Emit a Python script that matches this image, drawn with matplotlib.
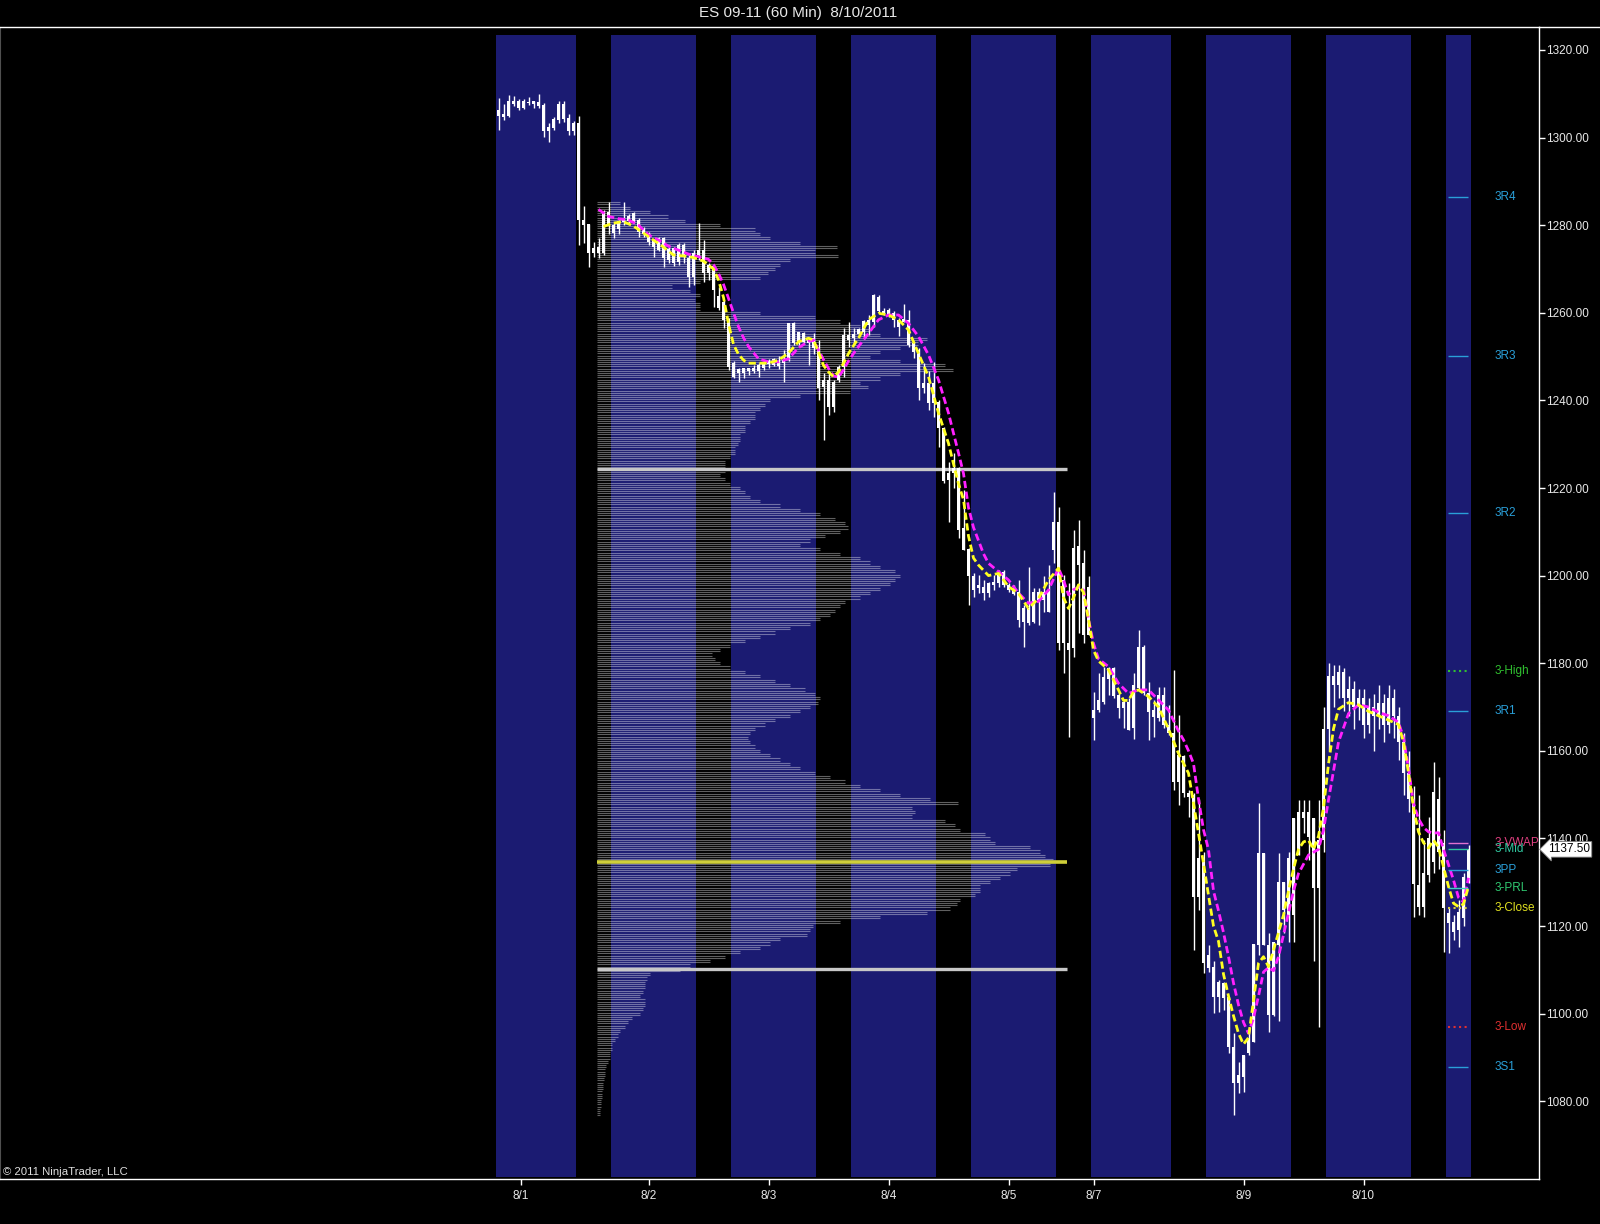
import numpy as np
import matplotlib
matplotlib.use("Agg")
import matplotlib.pyplot as plt
import matplotlib.transforms as mtransforms

plt.rcParams['font.family'] = ['Liberation Sans', 'DejaVu Sans']

# ES 09-11, 60 min bars, 8/1/2011 .. 8/10/2011 (bar index = x position)
bar_open = [
    1306.3, 1304.8, 1305.0, 1308.4, 1308.4, 1306.7, 1308.2, 1307.7, 1308.1, 1307.4,
    1301.4, 1302.1, 1304.0, 1307.7, 1304.4, 1301.4, 1303.4, 1281.2, 1280.3, 1273.7,
    1275.1, 1273.7, 1283.1, 1280.0, 1279.1, 1280.8, 1281.0, 1282.7, 1281.3, 1279.1,
    1278.2, 1276.6, 1274.3, 1277.0, 1272.0, 1274.7, 1271.7, 1275.5, 1272.4, 1268.2,
    1273.2, 1274.3, 1269.2, 1270.7, 1263.8, 1262.5, 1258.4, 1248.5, 1246.2, 1247.3,
    1246.6, 1246.8, 1246.6, 1247.5, 1248.3, 1249.4, 1247.9, 1248.5, 1249.2, 1257.6,
    1253.2, 1255.5, 1253.2, 1254.2, 1251.9, 1243.1, 1244.7, 1238.6, 1244.7, 1247.7,
    1254.9, 1254.2, 1255.2, 1255.7, 1257.2, 1258.0, 1263.7, 1260.0, 1260.6, 1260.0,
    1258.4, 1258.0, 1258.4, 1253.0, 1251.5, 1242.8, 1243.9, 1239.3, 1239.7, 1233.6,
    1221.8, 1223.5, 1224.5, 1210.8, 1206.0, 1199.8, 1197.1, 1197.3, 1196.1, 1197.9,
    1198.2, 1200.9, 1197.9, 1197.1, 1196.3, 1189.5, 1192.5, 1189.5, 1196.3, 1194.4,
    1196.3, 1205.8, 1212.3, 1184.5, 1184.5, 1183.4, 1206.8, 1202.8, 1186.4, 1167.4,
    1169.3, 1171.2, 1176.5, 1179.0, 1172.7, 1169.7, 1171.2, 1165.1, 1174.3, 1183.8,
    1173.1, 1167.8, 1167.4, 1172.7, 1165.9, 1164.0, 1152.9, 1158.8, 1150.3, 1149.9,
    1126.7, 1135.5, 1110.3, 1110.7, 1103.9, 1106.9, 1103.9, 1092.4, 1084.1, 1085.6,
    1090.9, 1093.6, 1115.7, 1136.6, 1115.7, 1099.7, 1115.7, 1130.1, 1122.1, 1122.5,
    1136.2, 1146.1, 1146.1, 1144.6, 1128.6, 1139.6, 1165.0, 1177.0, 1175.0, 1178.0,
    1172.0, 1174.0, 1170.0, 1172.0, 1166.0, 1170.0, 1168.0, 1171.0, 1166.0, 1172.0,
    1168.0, 1162.0, 1155.0, 1149.0, 1129.4, 1124.4, 1131.6, 1134.7, 1149.0, 1139.0,
    1122.9, 1121.0, 1119.1, 1121.8, 1131.0,
]
bar_high = [
    1309.0, 1307.7, 1309.7, 1309.5, 1308.7, 1308.7, 1309.2, 1308.4, 1310.0, 1307.8,
    1303.3, 1304.6, 1308.4, 1308.4, 1305.5, 1303.9, 1304.9, 1284.4, 1280.3, 1276.2,
    1277.0, 1283.5, 1285.2, 1280.4, 1281.3, 1285.4, 1282.6, 1283.1, 1281.6, 1279.7,
    1278.5, 1276.8, 1277.4, 1277.4, 1275.5, 1275.1, 1276.0, 1275.9, 1273.2, 1274.3,
    1280.4, 1276.6, 1271.4, 1270.9, 1266.0, 1263.0, 1258.7, 1248.9, 1247.5, 1247.5,
    1247.5, 1248.1, 1248.5, 1249.2, 1249.4, 1249.6, 1250.1, 1251.5, 1257.7, 1258.0,
    1255.7, 1255.7, 1254.2, 1255.3, 1253.8, 1246.2, 1246.6, 1244.7, 1248.1, 1256.5,
    1258.0, 1256.5, 1256.5, 1258.4, 1259.5, 1264.4, 1264.1, 1261.0, 1261.0, 1260.3,
    1258.7, 1262.0, 1260.6, 1253.4, 1251.9, 1248.5, 1246.6, 1248.8, 1240.1, 1234.0,
    1226.0, 1227.9, 1224.9, 1219.5, 1206.2, 1200.5, 1200.1, 1199.0, 1198.6, 1200.1,
    1201.3, 1201.3, 1198.2, 1197.9, 1199.0, 1193.3, 1202.0, 1197.1, 1197.1, 1199.8,
    1202.4, 1219.2, 1215.7, 1200.1, 1198.2, 1210.4, 1212.7, 1205.9, 1199.8, 1173.5,
    1177.7, 1179.2, 1179.2, 1179.2, 1173.1, 1171.6, 1172.0, 1177.7, 1187.6, 1184.2,
    1175.8, 1171.6, 1174.6, 1174.6, 1170.5, 1178.4, 1168.2, 1159.0, 1151.1, 1150.3,
    1149.1, 1137.0, 1115.7, 1111.9, 1107.7, 1107.3, 1103.9, 1095.5, 1089.0, 1090.5,
    1097.0, 1116.0, 1148.0, 1136.6, 1118.3, 1116.4, 1136.6, 1130.1, 1137.0, 1144.6,
    1148.8, 1148.8, 1148.8, 1144.6, 1148.8, 1170.0, 1180.0, 1179.5, 1179.5, 1179.0,
    1177.0, 1176.0, 1174.0, 1174.0, 1172.0, 1173.0, 1175.0, 1173.0, 1175.0, 1174.0,
    1170.0, 1164.0, 1160.0, 1152.0, 1150.0, 1139.6, 1145.0, 1157.5, 1154.0, 1142.0,
    1124.0, 1122.5, 1126.0, 1132.0, 1138.5,
]
bar_low = [
    1301.7, 1304.0, 1304.8, 1307.1, 1306.3, 1306.5, 1307.4, 1306.7, 1306.7, 1300.2,
    1299.1, 1301.7, 1303.4, 1303.6, 1300.6, 1300.6, 1275.5, 1275.9, 1270.4, 1272.8,
    1272.4, 1273.2, 1278.1, 1277.0, 1278.1, 1280.0, 1280.4, 1280.4, 1277.4, 1277.4,
    1275.5, 1272.8, 1274.0, 1270.5, 1271.3, 1270.7, 1270.9, 1271.3, 1266.0, 1266.3,
    1272.0, 1267.1, 1267.5, 1261.4, 1260.6, 1256.5, 1247.0, 1245.0, 1244.3, 1245.0,
    1245.8, 1246.2, 1245.4, 1246.9, 1247.5, 1247.9, 1247.1, 1244.3, 1248.9, 1252.7,
    1252.7, 1253.0, 1248.1, 1250.7, 1240.1, 1231.0, 1236.7, 1237.4, 1244.3, 1245.4,
    1252.3, 1252.7, 1254.9, 1254.5, 1254.9, 1256.8, 1259.9, 1259.5, 1259.1, 1256.8,
    1254.6, 1258.0, 1252.3, 1249.6, 1240.1, 1241.6, 1237.8, 1236.3, 1229.4, 1221.1,
    1212.3, 1219.9, 1208.5, 1205.8, 1193.3, 1195.2, 1196.0, 1194.4, 1195.2, 1196.7,
    1197.5, 1197.5, 1196.3, 1195.6, 1188.3, 1183.8, 1188.7, 1189.1, 1188.7, 1191.8,
    1191.8, 1202.8, 1183.0, 1177.7, 1163.2, 1181.5, 1186.8, 1184.5, 1186.4, 1162.5,
    1168.9, 1170.8, 1172.7, 1172.0, 1167.4, 1165.1, 1164.7, 1162.8, 1173.9, 1172.7,
    1162.5, 1163.2, 1166.7, 1165.1, 1163.6, 1151.1, 1147.6, 1149.5, 1145.0, 1114.5,
    1123.7, 1109.2, 1109.6, 1100.1, 1100.4, 1100.8, 1090.9, 1076.8, 1081.8, 1082.2,
    1090.5, 1093.6, 1113.4, 1115.7, 1095.9, 1099.4, 1098.2, 1118.3, 1116.4, 1116.4,
    1136.2, 1141.2, 1135.1, 1111.9, 1097.0, 1137.0, 1160.0, 1170.0, 1172.0, 1169.0,
    1168.0, 1165.0, 1167.0, 1163.0, 1164.0, 1160.0, 1165.0, 1162.0, 1164.0, 1163.0,
    1158.0, 1150.0, 1146.0, 1122.1, 1122.5, 1122.1, 1130.0, 1132.0, 1133.0, 1114.0,
    1113.8, 1116.8, 1115.3, 1120.0, 1129.8,
]
bar_close = [
    1305.0, 1305.5, 1308.4, 1307.7, 1306.7, 1308.4, 1307.8, 1308.4, 1307.2, 1301.4,
    1302.5, 1304.2, 1307.7, 1304.2, 1301.4, 1303.4, 1281.2, 1280.0, 1273.6, 1274.7,
    1273.7, 1283.1, 1280.0, 1278.3, 1281.0, 1281.6, 1282.1, 1281.0, 1278.5, 1277.9,
    1276.2, 1275.1, 1277.0, 1272.4, 1274.5, 1271.4, 1275.5, 1273.2, 1268.2, 1273.7,
    1274.3, 1269.2, 1270.9, 1265.2, 1261.0, 1258.4, 1247.7, 1245.4, 1247.1, 1246.2,
    1247.3, 1247.5, 1248.1, 1248.6, 1249.1, 1248.1, 1248.8, 1249.2, 1257.6, 1253.0,
    1255.7, 1253.4, 1253.9, 1251.9, 1242.8, 1244.7, 1238.6, 1244.3, 1247.7, 1254.9,
    1253.9, 1255.2, 1256.2, 1258.2, 1258.4, 1264.1, 1260.3, 1260.5, 1259.5, 1258.4,
    1256.8, 1258.5, 1252.7, 1251.1, 1242.8, 1243.9, 1239.3, 1243.9, 1233.6, 1221.5,
    1223.5, 1224.5, 1210.4, 1205.8, 1199.8, 1196.7, 1197.9, 1196.0, 1198.4, 1198.6,
    1200.5, 1197.9, 1196.7, 1195.9, 1189.9, 1192.5, 1189.1, 1196.3, 1194.4, 1196.3,
    1191.8, 1212.3, 1184.5, 1199.0, 1183.0, 1206.2, 1202.4, 1186.4, 1197.5, 1169.3,
    1171.6, 1176.9, 1178.8, 1172.4, 1169.7, 1171.2, 1164.7, 1175.0, 1183.8, 1173.1,
    1168.9, 1169.3, 1172.7, 1165.9, 1164.0, 1152.9, 1159.0, 1150.3, 1149.5, 1126.7,
    1135.5, 1111.5, 1113.4, 1103.9, 1107.3, 1103.5, 1092.4, 1084.1, 1086.0, 1090.5,
    1094.4, 1116.0, 1136.6, 1115.7, 1099.7, 1116.4, 1130.1, 1123.7, 1135.5, 1144.6,
    1146.1, 1144.6, 1140.4, 1128.6, 1139.6, 1165.0, 1177.0, 1175.0, 1178.0, 1172.0,
    1174.0, 1170.0, 1172.0, 1166.0, 1170.0, 1168.0, 1171.0, 1166.0, 1172.0, 1168.0,
    1162.0, 1155.0, 1149.0, 1129.7, 1124.4, 1132.0, 1140.0, 1150.7, 1137.0, 1124.0,
    1120.6, 1118.7, 1123.3, 1131.3, 1137.5,
]

# day sessions (first bar, last bar) shaded blue
sessions = [(0, 15), (23, 39), (47, 63), (71, 87), (95, 111),
            (119, 134), (142, 158), (166, 182), (190, 194)]
date_labels = ['8/1', '8/2', '8/3', '8/4', '8/5', '8/7', '8/9', '8/10']
date_bars = [4.5, 30, 54, 78, 102, 119, 149, 173]

# moving averages, read at selected bars
fast_bars = [21, 23, 25, 27, 29, 31, 33, 35, 37, 39, 41, 43, 44, 45, 46, 47, 48, 49, 50, 52,
             54, 56, 58, 60, 62, 63, 64, 65, 66, 67, 68, 69, 70, 71, 72, 73, 74, 76, 78, 80,
             82, 84, 86, 88, 90, 91, 92, 93, 94, 95, 96, 97, 98, 100, 102, 104, 106, 108, 110, 112,
             113, 114, 115, 116, 117, 118, 119, 120, 122, 124, 125, 126, 127, 128, 130, 132, 134, 136, 138, 139,
             140, 141, 142, 143, 144, 145, 146, 147, 148, 149, 150, 151, 152, 153, 154, 155, 156, 157, 158, 159,
             160, 161, 162, 163, 164, 165, 166, 167, 168, 170, 172, 174, 176, 178, 180, 181, 182, 183, 184, 185,
             186, 187, 188, 189, 190, 191, 192, 193, 194]
fast_ma = [1279.7, 1280.5, 1280.8, 1279.8, 1278.2, 1276.6, 1275.0, 1273.2, 1273.0, 1272.6,
           1271.8, 1270.0, 1267.5, 1263.5, 1257.5, 1252.8, 1250.5, 1249.2, 1248.5, 1248.5,
           1248.5, 1249.2, 1250.8, 1253.4, 1254.2, 1253.8, 1251.0, 1248.0, 1246.5, 1245.4,
           1246.5, 1248.5, 1250.7, 1252.5, 1254.2, 1256.3, 1258.4, 1259.9, 1259.5, 1258.4,
           1256.1, 1250.7, 1245.4, 1237.1, 1230.2, 1225.5, 1221.0, 1217.3, 1209.0, 1204.0,
           1202.4, 1201.2, 1200.0, 1200.5, 1197.5, 1195.9, 1192.5, 1194.8, 1199.0, 1201.7,
           1195.0, 1192.5, 1195.0, 1197.9, 1196.2, 1190.0, 1183.0, 1180.5, 1178.5, 1173.9,
           1171.5, 1171.5, 1173.5, 1173.9, 1172.4, 1170.0, 1165.0, 1159.4, 1154.9, 1148.0,
           1141.0, 1134.3, 1127.0, 1120.0, 1116.5, 1109.0, 1104.0, 1099.5, 1095.5, 1093.0,
           1094.5, 1103.0, 1111.5, 1113.0, 1110.7, 1114.5, 1118.5, 1122.5, 1128.0, 1133.0,
           1137.5, 1139.2, 1139.6, 1137.5, 1140.5, 1147.0, 1157.0, 1165.0, 1169.5, 1171.0,
           1170.5, 1169.0, 1168.0, 1167.0, 1166.0, 1162.0, 1155.0, 1147.0, 1141.5, 1139.0,
           1137.8, 1139.6, 1138.0, 1133.5, 1129.0, 1125.2, 1124.4, 1125.0, 1129.0]
slow_bars = [20, 22, 24, 26, 28, 30, 32, 34, 36, 38, 40, 42, 43, 44, 45, 46, 47, 48, 49, 50,
             52, 54, 56, 58, 60, 62, 63, 64, 65, 66, 67, 68, 69, 70, 71, 72, 73, 74, 76, 78,
             80, 82, 84, 86, 88, 90, 91, 92, 93, 94, 95, 96, 97, 98, 100, 102, 104, 106, 108, 110,
             112, 113, 114, 115, 116, 117, 118, 119, 120, 122, 124, 126, 128, 130, 132, 134, 136, 137, 138, 139,
             140, 141, 142, 143, 144, 145, 146, 147, 148, 149, 150, 151, 152, 153, 154, 155, 156, 157, 158, 159,
             160, 162, 164, 165, 166, 168, 170, 172, 174, 176, 178, 180, 181, 182, 183, 184, 185, 186, 187, 188,
             189, 190, 191, 192, 193, 194]
slow_ma = [1283.6, 1282.0, 1281.5, 1281.2, 1280.0, 1277.8, 1276.6, 1275.2, 1274.3, 1273.4,
           1272.8, 1272.2, 1271.0, 1269.0, 1266.5, 1263.3, 1260.0, 1256.8, 1254.3, 1252.3,
           1249.5, 1248.8, 1248.8, 1249.5, 1252.0, 1253.5, 1253.8, 1251.5, 1249.3, 1247.3,
           1245.6, 1245.3, 1247.0, 1249.0, 1250.7, 1252.3, 1253.8, 1255.3, 1258.4, 1259.5,
           1259.5, 1257.6, 1254.6, 1250.4, 1244.7, 1237.1, 1232.5, 1228.0, 1223.3, 1215.5,
           1211.0, 1208.0, 1205.0, 1202.8, 1200.9, 1199.0, 1196.0, 1193.7, 1194.1, 1196.7,
           1201.7, 1199.0, 1195.6, 1196.8, 1197.3, 1196.7, 1190.0, 1184.5, 1181.0, 1179.2,
           1175.4, 1173.1, 1173.9, 1173.9, 1171.6, 1169.3, 1164.5, 1162.5, 1160.0, 1157.1,
           1149.0, 1142.0, 1137.4, 1128.0, 1123.5, 1118.5, 1113.0, 1107.0, 1102.0, 1098.0,
           1095.5, 1099.0, 1104.0, 1109.5, 1110.5, 1109.8, 1113.0, 1118.0, 1123.0, 1128.0,
           1132.0, 1136.2, 1137.5, 1141.9, 1148.8, 1162.0, 1168.5, 1170.5, 1170.0, 1168.8,
           1168.0, 1166.5, 1163.0, 1156.0, 1148.0, 1144.5, 1142.5, 1141.5, 1141.2, 1141.3,
           1137.5, 1134.0, 1130.5, 1126.5, 1125.5, 1131.0]

# volume profile, one value per 1-point level from 1285 down (relative units)
profile_top = 1285
profile_vol = [
    23, 33, 53, 71, 88, 123, 158, 163, 173, 203,
    240, 218, 241, 193, 183, 178, 171, 163, 103, 75,
    93, 103, 98, 103, 103, 163, 218, 243, 263, 273,
    283, 330, 321, 303, 283, 273, 303, 348, 356, 303,
    283, 263, 271, 253, 203, 173, 168, 163, 158, 158,
    153, 148, 148, 143, 143, 141, 138, 138, 133, 128,
    128, 128, 123, 128, 133, 143, 148, 153, 163, 183,
    203, 223, 238, 248, 251, 243, 228, 213, 203, 223,
    243, 263, 273, 283, 298, 303, 298, 293, 283, 273,
    263, 248, 243, 238, 233, 223, 213, 193, 178, 163,
    148, 133, 123, 115, 118, 123, 133, 148, 163, 178,
    193, 208, 218, 223, 221, 213, 203, 193, 178, 168,
    158, 153, 151, 153, 158, 163, 173, 183, 193, 203,
    218, 233, 248, 263, 283, 303, 333, 361, 315, 318,
    315, 348, 358, 363, 388, 393, 398, 433, 443, 448,
    456, 453, 420, 413, 403, 393, 383, 383, 378, 363,
    360, 353, 330, 283, 243, 216, 213, 210, 183, 173,
    163, 143, 128, 113, 93, 83, 53, 50, 48, 48,
    46, 43, 48, 48, 46, 43, 35, 31, 28, 23,
    21, 18, 15, 15, 13, 13, 11, 9, 8, 8,
    7, 6, 6, 5, 5, 4, 4, 3, 3,
]
poc_price = 1134.5
va_high = 1224.25
va_low = 1110.25

# daily pivots
pivot_names = ['3R4', '3R3', '3R2', '3-High', '3R1', '3-VWAP', '3-Mid',
               '3PP', '3-PRL', '3-Close', '3-Low', '3S1']
pivot_prices = [1286.4, 1250.1, 1214.3, 1178.3, 1169.1, 1139.0, 1137.6,
                1132.9, 1128.6, 1124.0, 1097.0, 1087.8]
last_price = bar_close[-1]

pivot_style = {
    '3R4': ('#2a9fd8', '-'), '3R3': ('#2a9fd8', '-'), '3R2': ('#2a9fd8', '-'),
    '3R1': ('#2a9fd8', '-'), '3PP': ('#2a9fd8', '-'), '3S1': ('#2a9fd8', '-'),
    '3-High': ('#30c030', ':'), '3-Low': ('#e03030', ':'),
    '3-Close': ('#d8d040', ':'), '3-VWAP': ('#e070d0', '-'),
    '3-Mid': ('#30c8a0', '-'), '3-PRL': ('#40d0c0', '-'),
}
label_color = {
    '3R4': '#2a9fd8', '3R3': '#2a9fd8', '3R2': '#2a9fd8', '3R1': '#2a9fd8',
    '3PP': '#2a9fd8', '3S1': '#2a9fd8', '3-High': '#30c030', '3-Low': '#e03030',
    '3-Close': '#e0e020', '3-VWAP': '#e04080', '3-Mid': '#30c8a0', '3-PRL': '#30c870',
}

W, H = 1600, 1224
fig = plt.figure(figsize=(W / 100, H / 100), dpi=100, facecolor='black')
ax = fig.add_axes([0, 45 / H, 1539 / W, (1179 - 27) / H], facecolor='black')

n = len(bar_close)
x = np.arange(n)
o = np.array(bar_open)
c = np.array(bar_close)
hi = np.array(bar_high)
lo = np.array(bar_low)

ax.set_xlim(-99.7, 208.1)
ax.set_ylim(1062.24, 1325.25)

# session bands
for s, e in sessions:
    ax.axvspan(s - 0.5, e + 0.5, ymin=2 / 1152, ymax=1144 / 1152,
               color='#1b1b72', lw=0, zorder=0)

# volume profile
px0 = 19.7
levels = profile_top - np.arange(len(profile_vol))
vol = np.array(profile_vol)
for dy in (0.25, -0.25):
    ax.hlines(levels + dy, px0, px0 + vol * 0.2, color='white', alpha=0.38,
              lw=0.8, zorder=1)
ax.hlines([va_high, va_low], px0, 113.7, color='#c8c8c8', lw=2.4, zorder=2)
ax.hlines(poc_price, px0, 113.7, color='#cfcf3a', lw=2.6, zorder=2)

# candles
ax.vlines(x, lo, hi, color='white', lw=1.0, zorder=3)
body_h = np.maximum(np.abs(c - o), 0.35)
ax.bar(x, body_h, bottom=np.minimum(o, c), width=0.74, color='white',
       lw=0, zorder=3)

# moving averages
ax.plot(slow_bars, slow_ma, color='#ff20ff', lw=2.0, dashes=(2.6, 1.3), zorder=4)
ax.plot(fast_bars, fast_ma, color='#ffff20', lw=2.0, dashes=(2.6, 1.3), zorder=5)

# pivots
for name, p in zip(pivot_names, pivot_prices):
    col, ls = pivot_style[name]
    ax.hlines(p, 189.9, 193.9, color=col, lw=1.0 if ls == '-' else 1.5,
              linestyles=ls, zorder=4)
    ax.text(199.3, p, name, color=label_color[name], fontsize=8.5,
            ha='left', va='center', zorder=6)

# axes styling
for side in ('top', 'right', 'bottom'):
    ax.spines[side].set_color('white')
    ax.spines[side].set_linewidth(1.0)
ax.spines['left'].set_color('#505050')
ax.yaxis.tick_right()
ax.set_yticks(np.arange(1080, 1321, 20))
ax.set_yticklabels(['%.2f' % v for v in np.arange(1080, 1321, 20)])
ax.tick_params(axis='y', colors='white', labelcolor='#e8e8e8', length=4,
               width=1, labelsize=8.5, pad=1)
ax.set_xticks(date_bars)
ax.set_xticklabels(date_labels)
ax.tick_params(axis='x', colors='white', labelcolor='#e8e8e8', length=4,
               width=1, labelsize=8.5, pad=4)

# last price marker
trans = mtransforms.blended_transform_factory(ax.transAxes, ax.transData)
ax.text(1.0 + 9 / 1539, last_price, '%.2f' % last_price, transform=trans,
        ha='left', va='center', fontsize=8.5, color='black', clip_on=False,
        bbox=dict(boxstyle='larrow,pad=0.15', fc='white', ec='#808080', lw=0.6),
        zorder=10)

# title bar and credits
fig.add_artist(plt.Line2D([1539 / W, 1], [1 - 27 / H, 1 - 27 / H],
                          color='white', lw=1.0))
fig.text(798 / W, 1 - 13 / H, 'ES 09-11 (60 Min)  8/10/2011', color='#e8e8e8',
         fontsize=11, ha='center', va='center')
fig.text(3 / W, 1 - 1172 / H, '\u00a9 2011 NinjaTrader, LLC', color='#e0e0e0',
         fontsize=8.2, ha='left', va='center')

fig.savefig('out.png', dpi=100, facecolor='black')
